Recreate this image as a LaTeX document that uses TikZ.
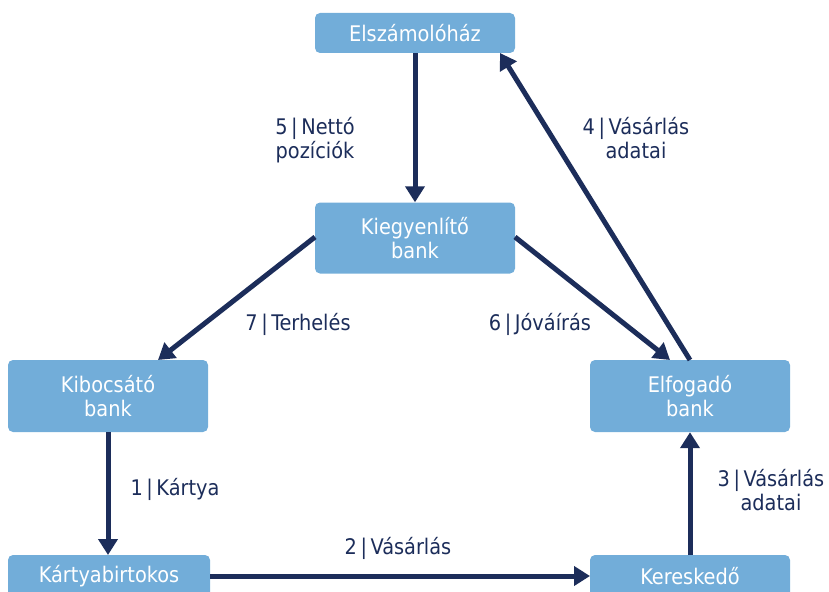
\documentclass[tikz,border=0pt]{standalone}
\usepackage{fontspec}
\setmainfont{DejaVu Sans Condensed}
\usetikzlibrary{arrows.meta}
\definecolor{boxblue}{HTML}{72ADD9}
\definecolor{navy}{HTML}{1C2D5A}
\newcommand{\sep}{\,|\,}
\begin{document}
\begin{tikzpicture}[x=1pt,y=-1pt,
  box/.style={fill=boxblue,draw=none,rounded corners=5pt,text=white,align=center,font=\fontsize{21.5}{24}\selectfont,inner sep=0pt},
  lbl/.style={text=navy,align=center,font=\fontsize{21.5}{24}\selectfont,inner sep=0pt},
  conn/.style={draw=navy,line width=5pt,-{Triangle[length=16pt,width=19pt]}}]
\useasboundingbox (0,0) rectangle (829,591);
\begin{scope}
\clip (0,0) rectangle (829,591);
\node[box,minimum width=200pt,minimum height=40pt] (ela) at (415,33) {Elszámolóház};
\node[box,minimum width=200pt,minimum height=71pt] (kie) at (415,238) {Kiegyenlítő\\bank};
\node[box,minimum width=200pt,minimum height=72pt] (kib) at (108,396) {Kibocsátó\\bank};
\node[box,minimum width=200pt,minimum height=72pt] (elf) at (690,396) {Elfogadó\\bank};
\node[box,minimum width=202pt,minimum height=72pt] (kar) at (109,591) {};
\node[box,minimum width=200pt,minimum height=72pt] (ker) at (690,591) {};
\node[text=white,font=\fontsize{21.5}{24}\selectfont,inner sep=0pt] (kart) at (109,576) {Kártyabirtokos};
\node[text=white,font=\fontsize{21.5}{24}\selectfont,inner sep=0pt] (kert) at (690,576) {Kereskedő};
\coordinate (kieL) at (315,237);
\coordinate (kieR) at (515,237);
\coordinate (kibT) at (158,360);
\coordinate (elfT1) at (670,360);
\coordinate (elfT2) at (690,360);
\coordinate (elaB) at (500,53);
\coordinate (karT) at (108,555);
\coordinate (kerT) at (690,555);
\coordinate (karR) at (210,576);
\coordinate (kerL) at (590,576);
\draw[conn] (ela.south) -- (kie.north);
\draw[conn] (kieL) -- (kibT);
\draw[conn] (kieR) -- (elfT1);
\draw[conn] (elfT2) -- (elaB);
\draw[conn] (kib.south) -- (karT);
\draw[conn] (karR) -- (kerL);
\draw[conn] (kerT) -- (elf.south);
\end{scope}
\node[lbl] (l5) at (315,140) {5\sep Nettó\\pozíciók};
\node[lbl] (l4) at (636,138) {4\sep Vásárlás\\adatai};
\node[lbl] (l7) at (298,324) {7\sep Terhelés};
\node[lbl] (l6) at (540,324) {6\sep Jóváírás};
\node[lbl] (l1) at (175,489) {1\sep Kártya};
\node[lbl] (l2) at (398,548) {2\sep Vásárlás};
\node[lbl] (l3) at (771,490) {3\sep Vásárlás\\adatai};
\end{tikzpicture}
\end{document}
